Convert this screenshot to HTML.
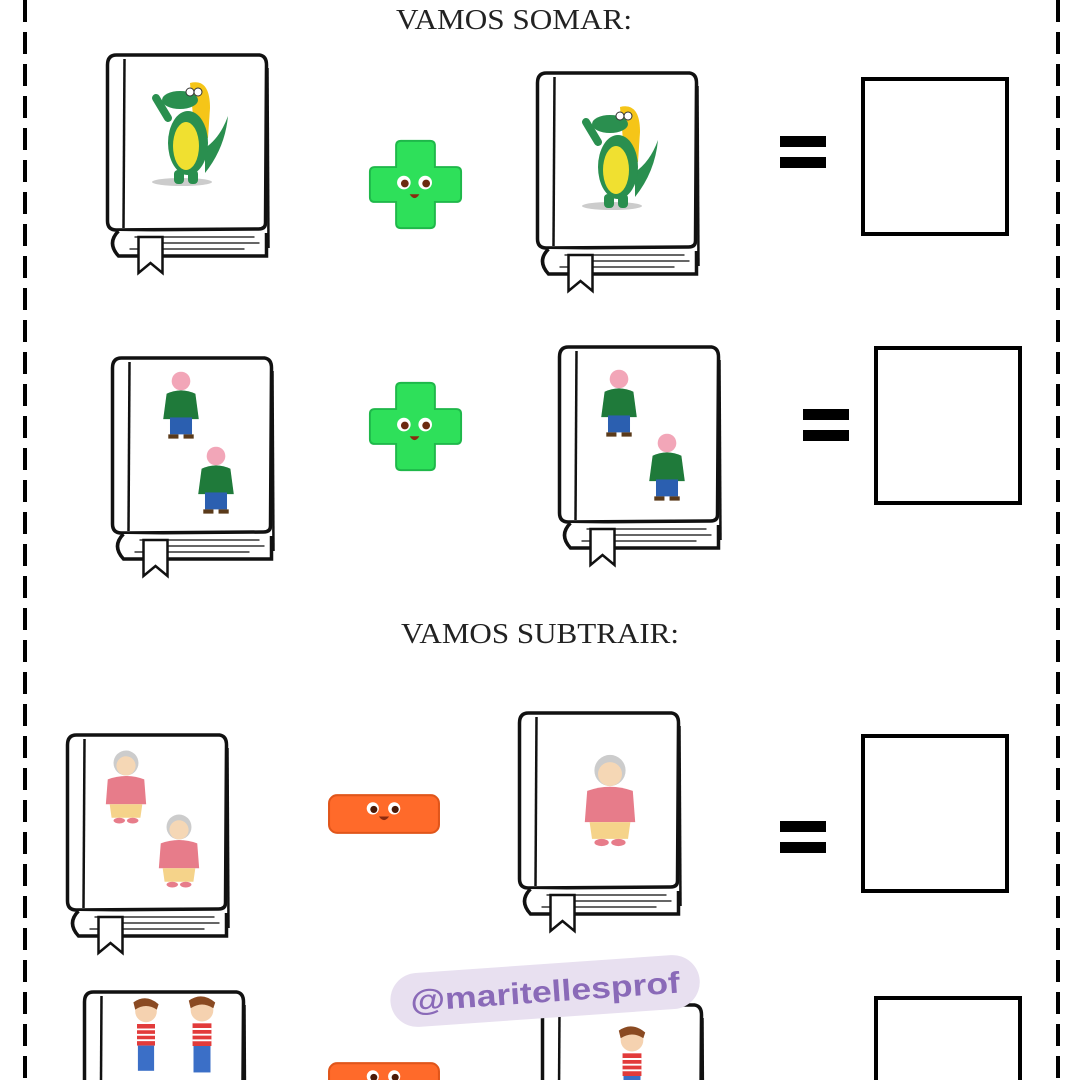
<!DOCTYPE html>
<html><head><meta charset="utf-8"><style>
html,body{margin:0;padding:0;background:#fff;width:1080px;height:1080px;overflow:hidden}
svg{display:block}
text{font-family:"Liberation Serif",serif}
text.wm{font-family:"Liberation Sans",sans-serif;font-weight:bold}
</style></head><body>
<svg width="1080" height="1080" viewBox="0 0 1080 1080" xmlns="http://www.w3.org/2000/svg">
<defs>
<symbol id="book" viewBox="0 0 165 225">
 <path d="M12,2 L155,2 Q162,3 162,12 L161,170 Q161,176 154,176 L12,177 Q3,177 3,168 L3,12 Q3,2 12,2Z" fill="#fff" stroke="#111" stroke-width="3.5"/>
 <path d="M20,6 L19,175" stroke="#111" stroke-width="2.5" fill="none"/>
 <path d="M163,15 L164,195" stroke="#111" stroke-width="2.5" fill="none"/>
 <path d="M14,178 Q2,190 14,203 L162,203 L162,180" stroke="#111" stroke-width="3.5" fill="#fff"/>
 <path d="M30,184 L150,184 M45,190 L155,190 M25,196 L140,196" stroke="#333" stroke-width="1.4"/>
 <path d="M34,184 L58,184 L58,220 L46,210 L34,220Z" fill="#fff" stroke="#111" stroke-width="2.5"/>
</symbol>
<symbol id="croc" viewBox="0 0 80 110">
 <ellipse cx="32" cy="104" rx="30" ry="4" fill="#ccc"/>
 <path d="M40,5 Q60,0 60,30 L58,60 L45,60Z" fill="#f5c518"/>
 <path d="M55,70 Q70,60 78,38 Q75,70 55,95Z" fill="#2a8f4f"/>
 <ellipse cx="38" cy="65" rx="20" ry="32" fill="#2a8f4f"/>
 <ellipse cx="36" cy="68" rx="13" ry="24" fill="#f0e030"/>
 <ellipse cx="30" cy="22" rx="18" ry="9" fill="#2a8f4f"/>
 <circle cx="40" cy="14" r="4" fill="#fff" stroke="#333"/><circle cx="48" cy="14" r="4" fill="#fff" stroke="#333"/>
 <path d="M18,40 L6,20" stroke="#2a8f4f" stroke-width="8" stroke-linecap="round"/>
 <rect x="24" y="92" width="10" height="14" rx="4" fill="#2a8f4f"/><rect x="38" y="92" width="10" height="14" rx="4" fill="#2a8f4f"/>
</symbol>
<symbol id="pig" viewBox="0 0 50 85">
 <circle cx="25" cy="13" r="11" fill="#f2a6b8"/>
 <path d="M8,28 Q25,20 42,28 L46,58 L4,58Z" fill="#1f7a3a"/>
 <rect x="12" y="56" width="26" height="20" fill="#2b5fb0"/>
 <rect x="10" y="76" width="12" height="5" fill="#5a3a1a"/><rect x="28" y="76" width="12" height="5" fill="#5a3a1a"/>
</symbol>
<symbol id="granny" viewBox="0 0 50 80">
 <circle cx="25" cy="15" r="13" fill="#ccc"/><circle cx="25" cy="18" r="10" fill="#f5d7b5"/>
 <path d="M6,32 Q25,25 44,32 L46,58 L4,58Z" fill="#e77c8a"/>
 <path d="M8,58 L42,58 L40,72 L10,72Z" fill="#f5d38a"/>
 <ellipse cx="18" cy="75" rx="6" ry="3" fill="#e77c8a"/><ellipse cx="32" cy="75" rx="6" ry="3" fill="#e77c8a"/>
</symbol>
<symbol id="boy" viewBox="0 0 40 90">
 <circle cx="20" cy="16" r="12" fill="#f5d2b0"/>
 <path d="M6,6 Q20,-4 34,8 L32,14 Q20,6 8,14Z" fill="#8a4a22"/>
 <rect x="10" y="30" width="20" height="24" fill="#e23b3b"/>
 <path d="M10,36 H30 M10,42 H30 M10,48 H30" stroke="#fff" stroke-width="2"/>
 <rect x="11" y="54" width="18" height="28" fill="#3b6fc7"/>
</symbol>
<symbol id="plus" viewBox="0 0 100 100">
 <path d="M35,5 H65 Q70,5 70,10 V32 H92 Q97,32 97,37 V63 Q97,68 92,68 H70 V90 Q70,95 65,95 H35 Q30,95 30,90 V68 H8 Q3,68 3,63 V37 Q3,32 8,32 H30 V10 Q30,5 35,5Z" fill="#2ee05a" stroke="#1fb84a" stroke-width="2"/>
 <circle cx="38" cy="48" r="7" fill="#fff"/><circle cx="60" cy="48" r="7" fill="#fff"/>
 <circle cx="39" cy="49" r="4" fill="#6b2a10"/><circle cx="61" cy="49" r="4" fill="#6b2a10"/>
 <path d="M44,60 Q49,68 54,60Z" fill="#8a2a10"/>
</symbol>
<symbol id="minus" viewBox="0 0 112 42">
 <rect x="2" y="3" width="108" height="37" rx="8" fill="#ff6a2a" stroke="#e0551a" stroke-width="2"/>
 <circle cx="45" cy="16" r="6" fill="#fff"/><circle cx="66" cy="16" r="6" fill="#fff"/>
 <circle cx="46" cy="17" r="3.5" fill="#4a1a08"/><circle cx="67" cy="17" r="3.5" fill="#4a1a08"/>
 <path d="M51,24 Q56,31 61,24Z" fill="#8a2a10"/>
</symbol>
<symbol id="eq" viewBox="0 0 46 34">
 <rect x="0" y="1" width="46" height="11" fill="#000"/><rect x="0" y="22" width="46" height="11" fill="#000"/>
</symbol>
</defs>

<line x1="25" y1="0" x2="25" y2="1080" stroke="#000" stroke-width="4" stroke-dasharray="22 10"/>
<line x1="1058" y1="0" x2="1058" y2="1080" stroke="#000" stroke-width="4" stroke-dasharray="22 10"/>

<text x="514" y="29" font-size="29" text-anchor="middle" fill="#222" textLength="236" lengthAdjust="spacingAndGlyphs">VAMOS SOMAR:</text>
<text x="540" y="643" font-size="29" text-anchor="middle" fill="#222" textLength="278" lengthAdjust="spacingAndGlyphs">VAMOS SUBTRAIR:</text>

<use href="#book" x="103" y="53" width="168" height="225"/>
<use href="#croc" x="150" y="78" width="80" height="110"/>
<use href="#book" x="533" y="71" width="168" height="225"/>
<use href="#croc" x="580" y="102" width="80" height="110"/>
<use href="#plus" x="367" y="136" width="97" height="97"/>
<use href="#eq" x="780" y="135" width="46" height="34"/>
<rect x="863" y="79" width="144" height="155" fill="none" stroke="#000" stroke-width="4"/>

<use href="#book" x="108" y="356" width="168" height="225"/>
<use href="#pig" x="157" y="370" width="48" height="72"/>
<use href="#pig" x="192" y="445" width="48" height="72"/>
<use href="#book" x="555" y="345" width="168" height="225"/>
<use href="#pig" x="595" y="368" width="48" height="72"/>
<use href="#pig" x="643" y="432" width="48" height="72"/>
<use href="#plus" x="367" y="378" width="97" height="97"/>
<use href="#eq" x="803" y="408" width="46" height="34"/>
<rect x="876" y="348" width="144" height="155" fill="none" stroke="#000" stroke-width="4"/>

<use href="#book" x="63" y="733" width="168" height="225"/>
<use href="#granny" x="102" y="748" width="48" height="78"/>
<use href="#granny" x="155" y="812" width="48" height="78"/>
<use href="#book" x="515" y="711" width="168" height="225"/>
<use href="#granny" x="580" y="748" width="60" height="105"/>
<use href="#minus" x="327" y="792" width="114" height="43"/>
<use href="#eq" x="780" y="820" width="46" height="34"/>
<rect x="863" y="736" width="144" height="155" fill="none" stroke="#000" stroke-width="4"/>

<use href="#book" x="80" y="990" width="168" height="225"/>
<use href="#boy" x="128" y="995" width="36" height="85"/>
<use href="#boy" x="182" y="995" width="40" height="85"/>
<use href="#book" x="538" y="1003" width="168" height="225"/>
<use href="#boy" x="612" y="1025" width="40" height="85"/>
<use href="#minus" x="327" y="1060" width="114" height="43"/>
<rect x="876" y="998" width="144" height="100" fill="none" stroke="#000" stroke-width="4"/>

<g transform="rotate(-4 545 990)">
 <rect x="390" y="964" width="310" height="54" rx="27" fill="#e8e0f0"/>
 <text class="wm" x="545" y="1002" font-size="30" text-anchor="middle" fill="#8a6ab8" textLength="270" lengthAdjust="spacingAndGlyphs">@maritellesprof</text>
</g>
</svg>
</body></html>
